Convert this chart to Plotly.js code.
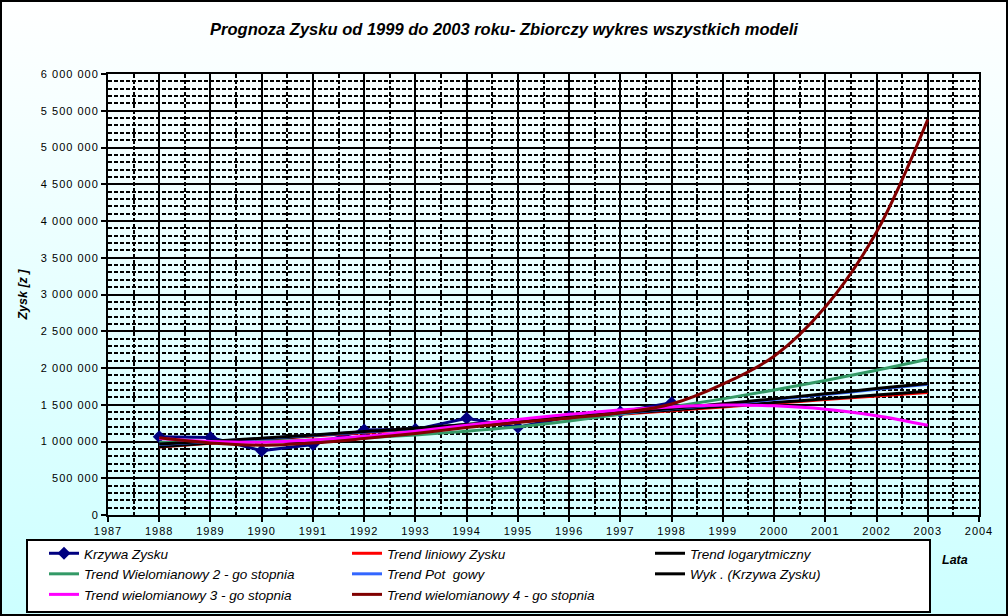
<!DOCTYPE html>
<html>
<head>
<meta charset="utf-8">
<script src="https://cdn.plot.ly/plotly-3.0.1.min.js"></script>
<style>
html,body{margin:0;padding:0;background:#ffffff;}
#wrap{position:relative;width:1008px;height:616px;background:linear-gradient(to bottom,#ffffff 0%,#ccffff 100%);overflow:hidden;}
#chart{position:absolute;left:0;top:0;width:1008px;height:616px;}
#frame{position:absolute;left:0;top:0;width:1008px;height:616px;box-sizing:border-box;border:2px solid #000;pointer-events:none;}
.xtick text,.ytick text{letter-spacing:1px;}
</style>
</head>
<body>
<div id="wrap"><div id="chart"></div><div id="frame"></div></div>
<script>
// ---- data ----
const profitYears = [1988,1989,1990,1991,1992,1993,1994,1995,1996,1997,1998];
const profit = [1065000,1055000,875000,960000,1155000,1165000,1315000,1193000,1337000,1400000,1528000];

const trendYears = [1988,1989,1990,1991,1992,1993,1994,1995,1996,1997,1998,1999,2000,2001,2002,2003];
const linearTrend = [925000,975000,1025000,1075000,1120000,1170000,1220000,1270000,1320000,1370000,1420000,1470000,1520000,1570000,1620000,1668000];
const logTrend    = [930000,980000,1030000,1080000,1130000,1180000,1230000,1280000,1330000,1380000,1430000,1480000,1530000,1580000,1632000,1682000];
const poly2Trend  = [990000,990000,1000000,1020000,1050000,1090000,1140000,1200000,1280000,1370000,1470000,1580000,1700000,1830000,1970000,2120000];
const powerTrend  = [960000,1000000,1040000,1085000,1130000,1175000,1225000,1275000,1330000,1385000,1445000,1505000,1570000,1640000,1710000,1780000];
const expTrend    = [965000,1005000,1045000,1090000,1135000,1180000,1230000,1280000,1335000,1390000,1450000,1515000,1580000,1650000,1720000,1790000];
const poly3Trend  = [1040000,1000000,990000,1020000,1070000,1140000,1220000,1300000,1370000,1430000,1470000,1495000,1485000,1440000,1350000,1220000];
const poly4Trend  = [1050000,980000,950000,980000,1040000,1110000,1190000,1260000,1320000,1390000,1510000,1780000,2160000,2830000,3850000,5380000];

const seriesNames = [
  'Krzywa Zysku',
  'Trend liniowy Zysku',
  'Trend logarytmiczny',
  'Trend Wielomianowy 2 - go stopnia',
  'Trend Pot  gowy',
  'Wyk . (Krzywa Zysku)',
  'Trend wielomianowy 3 - go stopnia',
  'Trend wielomianowy 4 - go stopnia'
];
const seriesColors = ['#000080','#ff0000','#000000','#339966','#3366ff','#000000','#ff00ff','#800000'];

const titleText = 'Prognoza Zysku od 1999 do 2003 roku- Zbiorczy wykres wszystkich modeli';
const yTitleText = 'Zysk [z ]';
const xTitleText = 'Lata';

// ---- chart ----
const FONT = 'Liberation Sans, Arial, Helvetica, sans-serif';
const trendValues = [linearTrend, logTrend, poly2Trend, powerTrend, expTrend, poly3Trend, poly4Trend];

const traces = [{
  x: profitYears, y: profit, name: seriesNames[0], type: 'scatter', mode: 'lines+markers',
  line: {color: seriesColors[0], width: 3},
  marker: {symbol: 'diamond', size: 10, color: seriesColors[0]}
}];
trendValues.forEach((vals, i) => {
  traces.push({
    x: trendYears, y: vals, name: seriesNames[i + 1], type: 'scatter', mode: 'lines',
    line: {color: seriesColors[i + 1], width: 3, shape: 'spline'}
  });
});

const gridMinor = (dt) => ({dtick: dt, showgrid: true, gridcolor: '#000', gridwidth: 2, griddash: '4px,2px', ticks: ''});

// plot-area geometry in pixels (used to place paper-referenced items)
const PL = 108, PW = 871, PB = 515, PH = 441;
const px2x = (p) => (p - PL) / PW;
const px2y = (p) => (PB - p) / PH;

const layout = {
  width: 1008, height: 616,
  paper_bgcolor: 'rgba(0,0,0,0)', plot_bgcolor: 'rgba(0,0,0,0)',
  margin: {l: PL, r: 1008 - PL - PW, t: PB - PH, b: 616 - PB, autoexpand: false},
  separators: ', ',
  font: {family: FONT, color: '#000'},
  title: {text: titleText, x: 0.5, xref: 'container', xanchor: 'center', y: 1 - 29 / 616, yanchor: 'middle',
          font: {family: FONT, size: 16.5, weight: 'bold', style: 'italic', color: '#000'}},
  xaxis: {
    range: [1987, 2004], tick0: 1987, dtick: 1, tickformat: 'd',
    ticks: 'outside', ticklen: 5, tickwidth: 2, tickcolor: '#000',
    showgrid: true, gridcolor: '#000', gridwidth: 2,
    showline: true, linecolor: '#000', linewidth: 2, mirror: true, zeroline: false,
    minor: gridMinor(0.5),
    tickfont: {family: FONT, size: 11, color: '#000'}
  },
  yaxis: {
    range: [0, 6000000], tick0: 0, dtick: 500000, tickformat: ',d',
    ticks: 'outside', ticklen: 5, tickwidth: 2, tickcolor: '#000',
    showgrid: true, gridcolor: '#000', gridwidth: 2,
    showline: true, linecolor: '#000', linewidth: 2, mirror: true, zeroline: false,
    minor: gridMinor(100000),
    tickfont: {family: FONT, size: 11, color: '#000'},
    title: {text: yTitleText, standoff: 10, font: {family: FONT, size: 12.5, weight: 'bold', style: 'italic', color: '#000'}}
  },
  showlegend: true,
  legend: {
    orientation: 'h', x: px2x(44), xanchor: 'left', y: px2y(538), yanchor: 'top',
    bgcolor: 'rgba(0,0,0,0)', borderwidth: 0,
    entrywidth: 258, entrywidthmode: 'pixels', itemwidth: 30, traceorder: 'normal',
    font: {family: FONT, size: 13.5, style: 'italic', color: '#000'}
  },
  shapes: [{
    type: 'rect', xref: 'paper', yref: 'paper',
    x0: px2x(27), x1: px2x(930), y0: px2y(540), y1: px2y(612),
    fillcolor: '#ffffff', line: {color: '#000', width: 2}, layer: 'above'
  }],
  annotations: [{
    text: xTitleText, xref: 'paper', yref: 'paper', x: px2x(955), y: px2y(560),
    xanchor: 'center', yanchor: 'middle', showarrow: false,
    font: {family: FONT, size: 12.5, weight: 'bold', style: 'italic', color: '#000'}
  }],
  hovermode: false
};

Plotly.newPlot('chart', traces, layout, {staticPlot: true, displayModeBar: false});
</script>
</body>
</html>
